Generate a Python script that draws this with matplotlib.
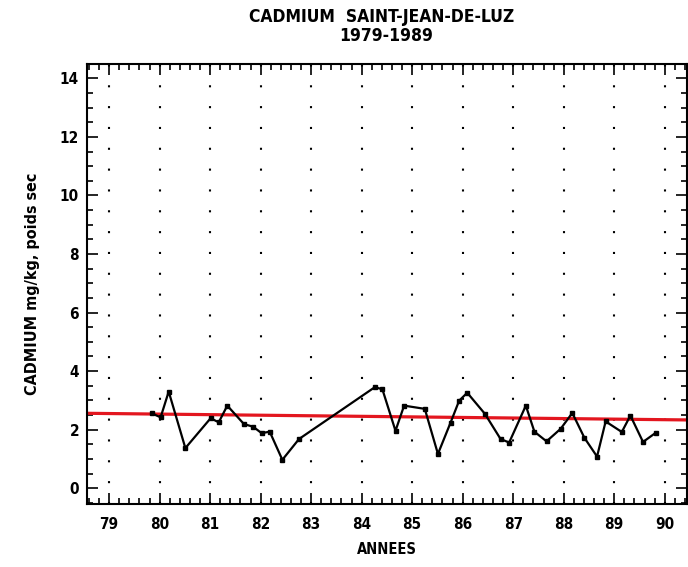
import numpy as np
import matplotlib
matplotlib.use("Agg")
import matplotlib.pyplot as plt
from matplotlib.ticker import MultipleLocator

# cadmium, Saint-Jean-de-Luz
years = [79.84, 80.02, 80.18, 80.51, 81.01, 81.17, 81.34, 81.67, 81.85, 82.02,
         82.18, 82.43, 82.76, 84.26, 84.41, 84.67, 84.84, 85.25, 85.51, 85.76,
         85.93, 86.09, 86.44, 86.75, 86.92, 87.25, 87.42, 87.66, 87.94, 88.17,
         88.41, 88.66, 88.83, 89.15, 89.32, 89.57, 89.82]
cadmium = [2.56, 2.42, 3.30, 1.37, 2.39, 2.25, 2.82, 2.19, 2.10, 1.88,
           1.93, 0.97, 1.68, 3.45, 3.38, 1.96, 2.82, 2.71, 1.17, 2.24,
           2.99, 3.26, 2.54, 1.68, 1.56, 2.82, 1.93, 1.60, 2.03, 2.57,
           1.72, 1.08, 2.28, 1.92, 2.48, 1.58, 1.89]

# trend line (red), value at two years
trend_years = [79, 90]
trend_values = [2.55, 2.34]

year_ticks = list(range(79, 91))
year_labels = [str(y) for y in year_ticks]
y_ticks = list(range(0, 15, 2))

plt.rcParams['font.family'] = ['DejaVu Sans']
plt.rcParams['font.stretch'] = 'condensed'

fig = plt.figure(figsize=(6.88, 5.67), dpi=100)
ax = fig.add_axes([0.127, 0.1106, 0.8715, 0.776])

# vertical dotted year lines
for y in year_ticks:
    ax.axvline(y, color='black', lw=1.5, linestyle=(0, (1, 9)), zorder=1)

ax.axline((trend_years[0], trend_values[0]), (trend_years[1], trend_values[1]),
          color='#e3161f', lw=2.3, zorder=2)

ax.plot(years, cadmium, color='black', lw=1.6, marker='s', markersize=2.6, zorder=3)

ax.set_xlim(78.57, 90.44)
ax.set_ylim(-0.55, 14.48)

ax.set_xticks(year_ticks)
ax.set_xticklabels(year_labels)
ax.set_yticks(y_ticks)
ax.xaxis.set_minor_locator(MultipleLocator(0.2))
ax.yaxis.set_minor_locator(MultipleLocator(0.5))

ax.tick_params(which='both', direction='in', top=True, right=True, width=1.2, colors='black')
ax.tick_params(which='major', length=8)
ax.tick_params(which='minor', length=4)
ax.tick_params(axis='x', which='major', pad=9, labelsize=11)
ax.tick_params(axis='y', which='major', pad=6, labelsize=11)
for lab in ax.get_xticklabels() + ax.get_yticklabels():
    lab.set_fontweight('bold')

for sp in ax.spines.values():
    sp.set_linewidth(1.5)

ax.set_xlabel('ANNEES', fontsize=10.5, fontweight='bold', labelpad=7)
ax.set_ylabel('CADMIUM mg/kg, poids sec', fontsize=11.5, fontweight='bold', labelpad=14)

fig.text(0.555, 0.970, 'CADMIUM  SAINT-JEAN-DE-LUZ', ha='center', va='center',
         fontsize=12.5, fontweight='bold')
fig.text(0.561, 0.937, '1979-1989', ha='center', va='center',
         fontsize=12.5, fontweight='bold')

fig.savefig('out.png', dpi=100)
